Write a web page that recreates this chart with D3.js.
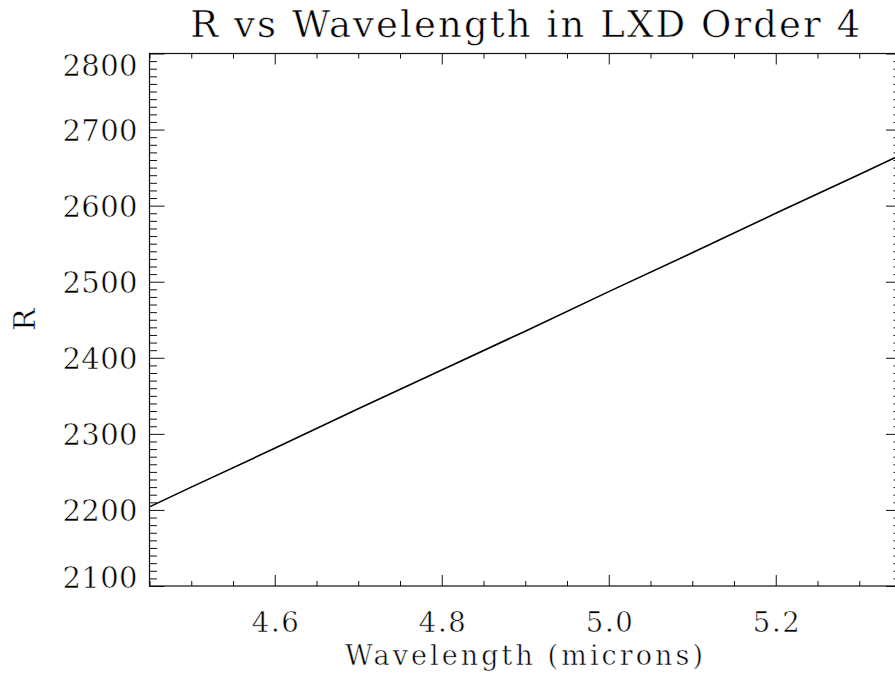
<!DOCTYPE html>
<html><head><meta charset="utf-8">
<script src="https://cdn.jsdelivr.net/npm/d3@7"></script>
<style>html,body{margin:0;padding:0;background:#fff;overflow:hidden}</style>
</head><body><svg id="c" width="895" height="679" xmlns="http://www.w3.org/2000/svg"></svg>
<script>
// ---- data ----
const wavelength = [4.45, 4.5, 4.6, 4.7, 4.8, 4.9, 5.0, 5.1, 5.2, 5.3, 5.35];
const resolution = [2204, 2230, 2281, 2333, 2384, 2435, 2487, 2538, 2590, 2641, 2667];
const xDomain = [4.45, 5.35];
const yDomain = [2100, 2800];
const xTickValues = [4.6, 4.8, 5.0, 5.2];
const xTickLabels = ["4.6", "4.8", "5.0", "5.2"];
const yTickValues = [2100, 2200, 2300, 2400, 2500, 2600, 2700, 2800];
const yTickLabels = ["2100", "2200", "2300", "2400", "2500", "2600", "2700", "2800"];
const xMinorTicks = [4.45, 4.5, 4.55, 4.65, 4.7, 4.75, 4.85, 4.9, 4.95, 5.05, 5.1, 5.15, 5.25, 5.3, 5.35];
const yMinorTicks = d3.range(210, 281).map(i => i * 10).filter(v => v % 100 !== 0);
const titleText = "R vs Wavelength in LXD Order 4";
const xAxisTitle = "Wavelength (microns)";
const yAxisTitle = "R";

// ---- layout ----
const L = 149.5, R = 901, T = 53.5, B = 586;
const FONT = "'DejaVu Serif', 'Liberation Serif', serif";
const svg = d3.select("#c");
svg.append("rect").attr("width", 895).attr("height", 679).attr("fill", "#fff");

const x = d3.scaleLinear().domain(xDomain).range([L, R]);
const y = d3.scaleLinear().domain(yDomain).range([B, T]);

function styleAxis(g) {
  g.select(".domain").remove();
  g.selectAll(".tick line").attr("stroke", "#111").attr("stroke-width", 1);
}
function thinText(sel) {
  sel.attr("fill", "#000").attr("stroke", "#fff").attr("stroke-width", 0.55)
    .attr("paint-order", "fill").attr("font-weight", "normal");
}

// left axis
svg.append("g").attr("transform", `translate(${L},0)`)
  .call(d3.axisLeft(y).tickValues(yMinorTicks).tickSize(-7.5).tickFormat(""))
  .call(styleAxis);
const gl = svg.append("g").attr("transform", `translate(${L},0)`)
  .call(d3.axisLeft(y).tickValues(yTickValues).tickSize(-15).tickPadding(12)
    .tickFormat((d, i) => yTickLabels[i]))
  .call(styleAxis);
gl.selectAll(".tick text")
  .attr("font-family", FONT).attr("font-size", 29)
  .attr("textLength", 75).attr("lengthAdjust", "spacing")
  .attr("dy", d => d === yDomain[1] ? 22 : (d === yDomain[0] ? 1.5 : 10.5))
  .call(thinText);

// right axis (mostly outside the picture)
svg.append("g").attr("transform", `translate(${R},0)`)
  .call(d3.axisRight(y).tickValues(yMinorTicks).tickSize(-7.5).tickFormat(""))
  .call(styleAxis);
svg.append("g").attr("transform", `translate(${R},0)`)
  .call(d3.axisRight(y).tickValues(yTickValues).tickSize(-15).tickFormat(""))
  .call(styleAxis);

// bottom axis
svg.append("g").attr("transform", `translate(0,${B})`)
  .call(d3.axisBottom(x).tickValues(xMinorTicks).tickSize(-5).tickFormat(""))
  .call(styleAxis);
const gb = svg.append("g").attr("transform", `translate(0,${B})`)
  .call(d3.axisBottom(x).tickValues(xTickValues).tickSize(-11).tickPadding(0)
    .tickFormat((d, i) => xTickLabels[i]))
  .call(styleAxis);
gb.selectAll(".tick text")
  .attr("font-family", FONT).attr("font-size", 27.5)
  .attr("y", 46).attr("dy", 0)
  .attr("textLength", 47).attr("lengthAdjust", "spacing")
  .call(thinText);

// top axis
svg.append("g").attr("transform", `translate(0,${T})`)
  .call(d3.axisTop(x).tickValues(xMinorTicks).tickSize(-5).tickFormat(""))
  .call(styleAxis);
svg.append("g").attr("transform", `translate(0,${T})`)
  .call(d3.axisTop(x).tickValues(xTickValues).tickSize(-11).tickFormat(""))
  .call(styleAxis);

// frame
svg.append("rect").attr("x", L).attr("y", T).attr("width", R - L).attr("height", B - T)
  .attr("fill", "none").attr("stroke", "#111").attr("stroke-width", 1.2);

// data line
const data = wavelength.map((w, i) => ({ w, r: resolution[i] }));
svg.append("path").datum(data)
  .attr("fill", "none").attr("stroke", "#000").attr("stroke-width", 1.6)
  .attr("d", d3.line().x(d => x(d.w)).y(d => y(d.r)));

// titles
svg.append("text").attr("x", (L + R) / 2).attr("y", 37)
  .attr("text-anchor", "middle").attr("font-family", FONT).attr("font-size", 37)
  .attr("textLength", 670).attr("lengthAdjust", "spacing")
  .call(thinText).text(titleText);
svg.append("text").attr("x", 524).attr("y", 665)
  .attr("text-anchor", "middle").attr("font-family", FONT).attr("font-size", 27)
  .attr("textLength", 358).attr("lengthAdjust", "spacing")
  .call(thinText).text(xAxisTitle);
svg.append("text").attr("transform", `translate(35,${(T + B) / 2}) rotate(-90)`)
  .attr("text-anchor", "middle").attr("font-family", FONT).attr("font-size", 30)
  .call(thinText).text(yAxisTitle);
</script>
</body></html>
